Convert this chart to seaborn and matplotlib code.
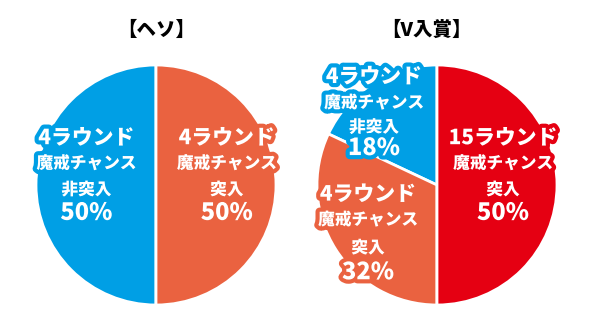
import matplotlib
matplotlib.use("Agg")
import matplotlib.pyplot as plt
import matplotlib.patheffects as pe
import seaborn as sns

sns.set_theme(style="white")
plt.rcParams["font.family"] = ["Noto Sans CJK JP", "DejaVu Sans"]

# ---- data ----
titles = ["【ヘソ】", "【V入賞】"]

heso_labels = ["4ラウンド\n魔戒チャンス\n非突入", "4ラウンド\n魔戒チャンス\n突入"]
heso_values = [50, 50]

v_labels = ["4ラウンド\n魔戒チャンス\n非突入", "4ラウンド\n魔戒チャンス\n突入",
            "15ラウンド\n魔戒チャンス\n突入"]
v_values = [18, 32, 50]

BLUE, ORANGE, RED = "#009FE5", "#EA6240", "#E50012"
heso_colors = [BLUE, ORANGE]
v_colors = [BLUE, ORANGE, RED]

# label anchor (x centre, y of each of the four lines) in pie-radius units
heso_pos = [(-0.58, [0.39, 0.18, -0.04, -0.23]),
            (0.59, [0.39, 0.18, -0.04, -0.23])]
v_pos = [(-0.525, [0.90, 0.685, 0.48, 0.31]),
         (-0.575, [-0.08, -0.29, -0.525, -0.725]),
         (0.55, [0.39, 0.18, -0.04, -0.23])]

W, H = 592, 328
fig = plt.figure(figsize=(W / 100, H / 100), dpi=100)
fig.patch.set_facecolor("white")

R = 120  # pie radius in px


def make_axes(cx, cy):
    return fig.add_axes([(cx - R) / W, (H - cy - R) / H, 2 * R / W, 2 * R / H])


def draw_pie(ax, values, labels, colors, positions, title, title_dx=0.0):
    ax.pie(values, colors=colors, startangle=90, counterclock=True,
           radius=1.0, wedgeprops=dict(edgecolor="white", linewidth=2))
    ax.set_xlim(-1, 1)
    ax.set_ylim(-1, 1)
    ax.set_aspect("equal")
    ax.axis("off")
    for val, lab, col, (x, ys) in zip(values, labels, colors, positions):
        lines = lab.split("\n") + [f"{val}%"]
        sizes = [15, 12, 12, 17]
        for line, y, fs in zip(lines, ys, sizes):
            ax.text(x, y, line, ha="center", va="center", color="white",
                    fontsize=fs, fontweight="heavy", clip_on=False,
                    path_effects=[pe.withStroke(linewidth=6, foreground=col)])
    ax.text(title_dx, 1.29, title, ha="center", va="center", color="black",
            fontsize=14, fontweight="heavy", clip_on=False)


ax1 = make_axes(156, 185)
draw_pie(ax1, heso_values, heso_labels, heso_colors, heso_pos, titles[0])

ax2 = make_axes(437, 185)
draw_pie(ax2, v_values, v_labels, v_colors, v_pos, titles[1], title_dx=-0.09)

fig.savefig("out.png", dpi=100, facecolor="white")
